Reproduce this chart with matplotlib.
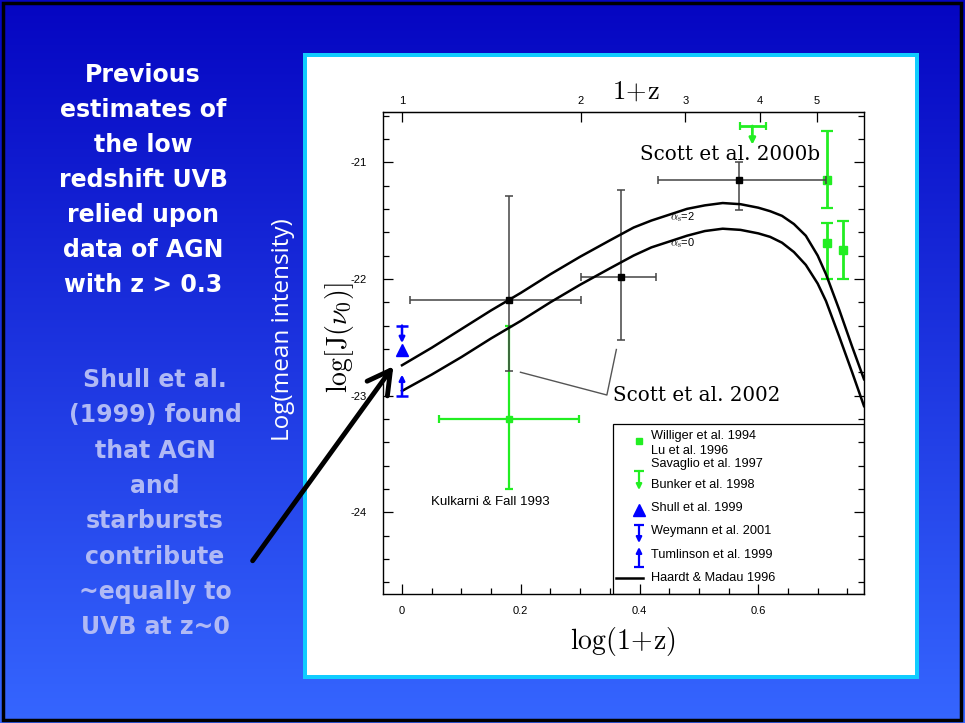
import numpy as np
import matplotlib
matplotlib.use('Agg')
import matplotlib.pyplot as plt
from matplotlib.patches import Rectangle
from matplotlib.ticker import MultipleLocator, FixedLocator, NullLocator, FuncFormatter

plt.rcParams['mathtext.fontset'] = 'cm'
plt.rcParams['axes.unicode_minus'] = False
plt.rcParams['font.family'] = ['Liberation Sans', 'DejaVu Sans']

# ---------------- data ----------------
# Haardt & Madau 1996 model curves
hm_logz = [0.0, 0.05, 0.10, 0.15, 0.20, 0.25, 0.30, 0.35, 0.39, 0.42, 0.45, 0.48,
           0.51, 0.54, 0.57, 0.60, 0.62, 0.64, 0.66, 0.68, 0.70, 0.714, 0.736,
           0.758, 0.778]
hm_alpha2 = [-22.74, -22.59, -22.43, -22.27, -22.12, -21.96, -21.81, -21.67,
             -21.56, -21.50, -21.45, -21.40, -21.37, -21.35, -21.36, -21.39,
             -21.42, -21.46, -21.53, -21.63, -21.80, -21.96, -22.26, -22.58, -22.86]
hm_alpha0 = [-22.96, -22.82, -22.67, -22.51, -22.36, -22.20, -22.05, -21.91,
             -21.80, -21.73, -21.68, -21.63, -21.59, -21.57, -21.58, -21.61,
             -21.64, -21.69, -21.77, -21.88, -22.04, -22.19, -22.49, -22.80, -23.09]

# Scott et al. 2002 / 2000b (black)
scott_x = [0.18, 0.368, 0.568]
scott_y = [-22.18, -21.98, -21.15]
scott_yerr_lo = [0.61, 0.54, 0.26]
scott_yerr_hi = [0.89, 0.74, 0.15]
scott_xerr_lo = [0.167, 0.067, 0.137]
scott_xerr_hi = [0.121, 0.059, 0.146]

# Williger 1994 / Lu 1996 / Savaglio 1997 (green squares)
green_x = [0.715, 0.715, 0.742]
green_y = [-21.15, -21.69, -21.75]
green_yerr_lo = [0.24, 0.31, 0.25]
green_yerr_hi = [0.42, 0.17, 0.25]

# Kulkarni & Fall 1993
kf_x = [0.18]
kf_y = [-23.2]
kf_yerr_lo = [0.6]
kf_yerr_hi = [0.8]
kf_xerr = [0.118]

# Bunker et al. 1998 (upper limit)
bunker_x = 0.590
bunker_xerr_lo = 0.021
bunker_xerr_hi = 0.023
bunker_y = -20.69
bunker_tip = -20.85

# Shull 1999, Weymann 2001, Tumlinson 1999 (z = 0)
shull_x, shull_y = 0.0, -22.61
weymann_x, weymann_cap, weymann_tip = 0.0, -22.40, -22.55
tumlinson_x, tumlinson_cap, tumlinson_tip = 0.0, -23.00, -22.82

top_ticks = [1, 2, 3, 4, 5]

GREEN = '#22ee22'
BLUE = '#0000ff'
GREY = '#444444'

W, H = 965, 723
fig = plt.figure(figsize=(W / 100, H / 100), dpi=100)

def fx(px):
    return px / W

def fy(py):
    return 1 - py / H

# ---------------- slide background ----------------
bg = fig.add_axes([0, 0, 1, 1], zorder=-10)
grad = np.linspace(0, 1, 256)[:, None]
top_c = np.array([0.02, 0.02, 0.76])
bot_c = np.array([0.21, 0.40, 1.00])
img = top_c[None, None, :] * (1 - grad[:, :, None]) + bot_c[None, None, :] * grad[:, :, None]
bg.imshow(img, aspect='auto', extent=[0, 1, 0, 1], origin='upper')
bg.set_xlim(0, 1)
bg.set_ylim(0, 1)
bg.axis('off')
bg.add_patch(Rectangle((fx(3), fy(720)), fx(958), 717 / H, fill=False,
                       edgecolor='black', lw=2.5, transform=bg.transAxes))
# panel
bg.add_patch(Rectangle((fx(303), fy(679)), fx(616), 626 / H, facecolor='#10ccff',
                       edgecolor='none', transform=bg.transAxes))
bg.add_patch(Rectangle((fx(307), fy(675)), fx(608), 618 / H, facecolor='white',
                       edgecolor='none', transform=bg.transAxes))

# slide texts
lines1 = ["Previous", "estimates of", "the low", "redshift UVB", "relied upon",
          "data of AGN", "with z > 0.3"]
for i, t in enumerate(lines1):
    fig.text(fx(143), fy(75 + 35 * i), t, ha='center', va='center', color='white',
             fontsize=17, fontweight='bold', family='DejaVu Sans')
lines2 = ["Shull et al.", "(1999) found", "that AGN", "and", "starbursts",
          "contribute", "~equally to", "UVB at z~0"]
for i, t in enumerate(lines2):
    fig.text(fx(155), fy(380 + 35.3 * i), t, ha='center', va='center', color='#b0b9f5',
             fontsize=17, fontweight='bold', family='DejaVu Sans')
fig.text(fx(283), fy(330), "Log(mean intensity)", rotation=90, ha='center', va='center',
         color='white', fontsize=17.5, family='Open Sans')

# ---------------- main axes ----------------
ax = fig.add_axes([fx(383), fy(594), (864 - 383) / W, (594 - 112) / H])
ax.set_xlim(-0.032, 0.778)
ax.set_ylim(-24.7, -20.57)
ax.xaxis.set_major_locator(MultipleLocator(0.2))
ax.xaxis.set_minor_locator(MultipleLocator(0.05))
ax.yaxis.set_major_locator(MultipleLocator(1))
ax.yaxis.set_minor_locator(MultipleLocator(0.2))
ax.xaxis.set_major_formatter(FuncFormatter(lambda v, p: '0' if abs(v) < 1e-9 else '%.1f' % v))
ax.yaxis.set_major_formatter(FuncFormatter(lambda v, p: '%d' % round(v)))
ax.tick_params(which='both', direction='in', top=False, right=True, labelsize=8, width=0.9)
ax.tick_params(which='major', length=7)
ax.tick_params(which='minor', length=4)
ax.tick_params(axis='x', pad=9)
ax.tick_params(axis='y', pad=12)
for s in ax.spines.values():
    s.set_linewidth(1.0)

sec = ax.secondary_xaxis('top', functions=(lambda x: 10 ** x, lambda x: np.log10(np.clip(x, 1e-6, None))))
sec.xaxis.set_major_locator(FixedLocator(top_ticks))
sec.xaxis.set_minor_locator(NullLocator())
sec.xaxis.set_major_formatter(FuncFormatter(lambda v, p: '%d' % round(v)))
sec.tick_params(direction='in', length=7, width=0.9, labelsize=8, pad=4)

# Kulkarni & Fall (green)
ax.errorbar(kf_x, kf_y, yerr=[kf_yerr_lo, kf_yerr_hi], xerr=[kf_xerr, kf_xerr],
            fmt='s', color=GREEN, ms=5, elinewidth=1.6, capsize=3, capthick=1.6, zorder=3)
# green squares
ax.errorbar(green_x, green_y, yerr=[green_yerr_lo, green_yerr_hi], fmt='s', color=GREEN,
            ms=6, elinewidth=2, capsize=4, capthick=1.6, zorder=3)
# Bunker upper limit
ax.errorbar([bunker_x], [bunker_y], xerr=[[bunker_xerr_lo], [bunker_xerr_hi]], fmt='none',
            ecolor=GREEN, elinewidth=2, capsize=3, capthick=1.6, zorder=3)
ax.annotate('', xy=(bunker_x, bunker_tip), xytext=(bunker_x, bunker_y),
            arrowprops=dict(arrowstyle='-|>', color=GREEN, lw=2, mutation_scale=9,
                            shrinkA=0, shrinkB=0), zorder=3)

# Scott et al. (black)
ax.errorbar(scott_x, scott_y, yerr=[scott_yerr_lo, scott_yerr_hi],
            xerr=[scott_xerr_lo, scott_xerr_hi], fmt='s', color='black', ecolor=GREY,
            ms=5, elinewidth=1.1, capsize=3, capthick=1.1, zorder=4)

# model curves
ax.plot(hm_logz, hm_alpha2, color='black', lw=1.8, zorder=5, solid_joinstyle='round')
ax.plot(hm_logz, hm_alpha0, color='black', lw=1.8, zorder=5, solid_joinstyle='round')

# blue points at z=0
ax.plot([shull_x], [shull_y], marker='^', color=BLUE, ms=9, ls='none', zorder=6)
for cap, tip in [(weymann_cap, weymann_tip), (tumlinson_cap, tumlinson_tip)]:
    ax.plot([0.0], [cap], marker='_', color=BLUE, ms=8, mew=1.8, zorder=6)
    ax.annotate('', xy=(0.0, tip), xytext=(0.0, cap),
                arrowprops=dict(arrowstyle='-|>', color=BLUE, lw=1.8, mutation_scale=8,
                                shrinkA=0, shrinkB=0), zorder=6)

# annotations in the plot
ax.text(0.451, -21.47, r'$\alpha_{\rm s}$=2', fontsize=8, ha='left', va='center')
ax.text(0.451, -21.69, r'$\alpha_{\rm s}$=0', fontsize=8, ha='left', va='center')
ax.text(0.401, -20.935, 'Scott et al. 2000b', family='DejaVu Serif', fontsize=14.3,
        ha='left', va='center')
ax.text(0.355, -23.0, 'Scott et al. 2002', family='DejaVu Serif', fontsize=14.3,
        ha='left', va='center')
ax.plot([0.1995, 0.345, 0.361], [-22.80, -22.995, -22.605], color='#555555', lw=1.0)
ax.text(0.049, -23.91, 'Kulkarni & Fall 1993', fontsize=9.5, ha='left', va='center')

# legend box (axes fraction)
def axf(px, py):
    return ((px - 383) / 481, (594 - py) / 482)

x0, y0 = axf(613, 424)
ax.add_patch(Rectangle((x0, 0), 1 - x0, y0, fill=False, edgecolor='black', lw=0.9,
                       transform=ax.transAxes, zorder=7))
tx = axf(651, 0)[0]
sx = axf(639, 0)[0]
T = ax.transAxes
for label, py in [("Williger et al. 1994", 436), ("Lu et al. 1996", 451),
                  ("Savaglio et al. 1997", 464), ("Bunker et al. 1998", 485),
                  ("Shull et al. 1999", 508), ("Weymann et al. 2001", 531),
                  ("Tumlinson et al. 1999", 555), ("Haardt & Madau 1996", 578)]:
    ax.text(tx, axf(0, py)[1], label, transform=T, fontsize=9.2, ha='left', va='center', zorder=8)
ax.plot([sx], [axf(0, 441)[1]], 's', color=GREEN, ms=5, transform=T, zorder=8)
# Bunker symbol
ax.plot([sx], [axf(0, 471)[1]], marker='_', color=GREEN, ms=7, mew=1.6, transform=T, zorder=8)
ax.annotate('', xy=(sx, axf(0, 490)[1]), xytext=(sx, axf(0, 471)[1]), xycoords=T,
            arrowprops=dict(arrowstyle='-|>', color=GREEN, lw=1.6, mutation_scale=8,
                            shrinkA=0, shrinkB=0), zorder=8)
# Shull symbol
ax.plot([sx], [axf(0, 510)[1]], marker='^', color=BLUE, ms=9, transform=T, zorder=8)
# Weymann symbol
ax.plot([sx], [axf(0, 525)[1]], marker='_', color=BLUE, ms=7, mew=1.6, transform=T, zorder=8)
ax.annotate('', xy=(sx, axf(0, 543)[1]), xytext=(sx, axf(0, 525)[1]), xycoords=T,
            arrowprops=dict(arrowstyle='-|>', color=BLUE, lw=1.6, mutation_scale=8,
                            shrinkA=0, shrinkB=0), zorder=8)
# Tumlinson symbol
ax.plot([sx], [axf(0, 567)[1]], marker='_', color=BLUE, ms=7, mew=1.6, transform=T, zorder=8)
ax.annotate('', xy=(sx, axf(0, 547)[1]), xytext=(sx, axf(0, 567)[1]), xycoords=T,
            arrowprops=dict(arrowstyle='-|>', color=BLUE, lw=1.6, mutation_scale=8,
                            shrinkA=0, shrinkB=0), zorder=8)
# Haardt & Madau symbol
ax.plot([axf(616, 0)[0], axf(643, 0)[0]], [axf(0, 578)[1]] * 2, color='black', lw=1.8,
        transform=T, zorder=8)

# axis labels (serif)
fig.text(fx(623), fy(642), r'$\mathrm{log(1\!+\!z)}$', ha='center', va='center', fontsize=20)
fig.text(fx(636), fy(92), r'$\mathrm{1\!+\!z}$', ha='center', va='center', fontsize=19)
fig.text(fx(340), fy(338), r'$\mathrm{log[J(}\nu_0\mathrm{)]}$', ha='center', va='center',
         fontsize=20, rotation=90)

# black pointer arrow on the slide
fig.patches.append(matplotlib.patches.FancyArrowPatch(
    (fx(251), fy(563)), (fx(395), fy(364)), transform=fig.transFigure,
    arrowstyle='->,head_length=0.9,head_width=0.5', mutation_scale=18,
    color='black', lw=3.5, zorder=20))

fig.savefig('out.png', dpi=100)
